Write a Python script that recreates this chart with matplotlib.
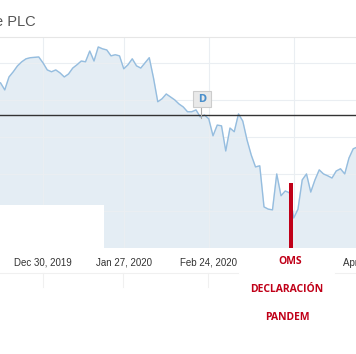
import matplotlib
matplotlib.use("Agg")
import matplotlib.pyplot as plt
from matplotlib.patches import Rectangle
import numpy as np

# trading day index, 0 = Dec 30, 2019
days = list(range(-10, 75))
price = [1346, 1327, 1362, 1376, 1392, 1403, 1411, 1414, 1415, 1416,
         1400, 1381, 1376, 1381, 1373, 1362, 1370, 1386, 1395, 1405,
         1403, 1432, 1405, 1443, 1438, 1435, 1419, 1422, 1419, 1384,
         1395, 1411, 1392, 1386, 1400, 1414, 1359, 1295, 1303, 1316,
         1308, 1300, 1289, 1281, 1268, 1268, 1273, 1254, 1259, 1249,
         1203, 1232, 1230, 1162, 1224, 1214, 1262, 1243, 1192, 1151,
         1119, 1122, 1011, 1005, 1003, 1100, 1041, 1054, 1049, 981,
         1005, 1084, 1100, 1051, 1084, 1111, 1100, 1095, 1089, 1108,
         1114, 1100, 1143, 1168, 1173]

tick_pos = [0, 19, 39]
tick_labels = ["Dec 30, 2019", "Jan 27, 2020", "Feb 24, 2020"]
grid_days = [0, 19, 39, 59]
grid_prices = [1000, 1100, 1200, 1300, 1400]
ref_level = 1260
oms_day = 58.4
oms_top = 1076

fig = plt.figure(figsize=(3.56, 3.54), dpi=100)
ax = fig.add_axes([0, 0.2994, 1, 0.5961])

ax.fill_between(days, price, 900, color="#e4edf4", zorder=1)
ax.plot(days, price, color="#95bddf", lw=1.0, zorder=2)

for t in grid_days:
    ax.axvline(t, color="#eaeef2", lw=0.8, zorder=1.5)
for g in grid_prices:
    ax.axhline(g, color="#eaeef2", lw=0.8, zorder=1.5)

ax.axhline(ref_level, color="#333333", lw=1.0, zorder=3)

for s in ax.spines.values():
    s.set_visible(False)
ax.spines["top"].set_visible(True)
ax.spines["top"].set_color("#e6e6e6")

ax.set_xticks(tick_pos)
ax.set_xticklabels(tick_labels, fontsize=7, color="#333333", family="Liberation Sans")
ax.tick_params(axis="x", length=0, pad=7)
ax.set_yticks([])
ax.set_xlim(-10.12, 73.65)
ax.set_ylim(900, 1470)

# white overlay box bottom-left
ax.add_patch(Rectangle((-10.12, 900), 24.47, 115, facecolor="white", edgecolor="none", zorder=4))

# D flag
ax.plot([37.1, 37.1], [1252, 1282], color="#aaaaaa", lw=0.8, zorder=5)
ax.add_patch(Rectangle((35.3, 1280), 4.2, 45, facecolor="#e9e9e9", edgecolor="#cccccc",
                       lw=0.8, zorder=6))
ax.text(37.4, 1302, "D", ha="center", va="center", fontsize=7, fontweight="bold",
        color="#4a8fcb", zorder=7)

# red bar
ax.bar(oms_day, oms_top - 900, bottom=900, width=0.9, color="#c00018", zorder=5)
ax.set_xlim(-10.12, 73.65)

# partially visible April label
fig.text(371 / 356, 1 - 263 / 354, "Apr 20, 2020", ha="center", va="center", fontsize=7,
         color="#333333", family="Liberation Sans")

# red annotation
red = "#c00018"
fig.text(290 / 356, 1 - 262 / 354, "OMS", ha="center", va="center", fontsize=7.5,
         fontweight="bold", color=red, family="Open Sans")
fig.text(287 / 356, 1 - 289 / 354, "DECLARACIÓN", ha="center", va="center", fontsize=7.5,
         fontweight="bold", color=red, family="Open Sans")
fig.text(287 / 356, 1 - 318 / 354, "PANDEM", ha="center", va="center", fontsize=7.5,
         fontweight="bold", color=red, family="Open Sans")

# title fragment
fig.text(-5 / 356, 1 - 22 / 354, "e PLC", ha="left", va="center", fontsize=10.5,
         color="#555555", family="Liberation Sans")

# faint lines below labels
fig.add_artist(plt.Line2D([0, 238 / 356], [1 - 273 / 354] * 2, color="#f0f0f0", lw=0.8))
fig.add_artist(plt.Line2D([335 / 356, 1], [1 - 273 / 354] * 2, color="#f0f0f0", lw=0.8))
for px in [43, 123, 208]:
    fig.add_artist(plt.Line2D([px / 356] * 2, [1 - 273 / 354, 1 - 287 / 354],
                              color="#f0f0f0", lw=0.8))

fig.savefig("out.png", dpi=100)
